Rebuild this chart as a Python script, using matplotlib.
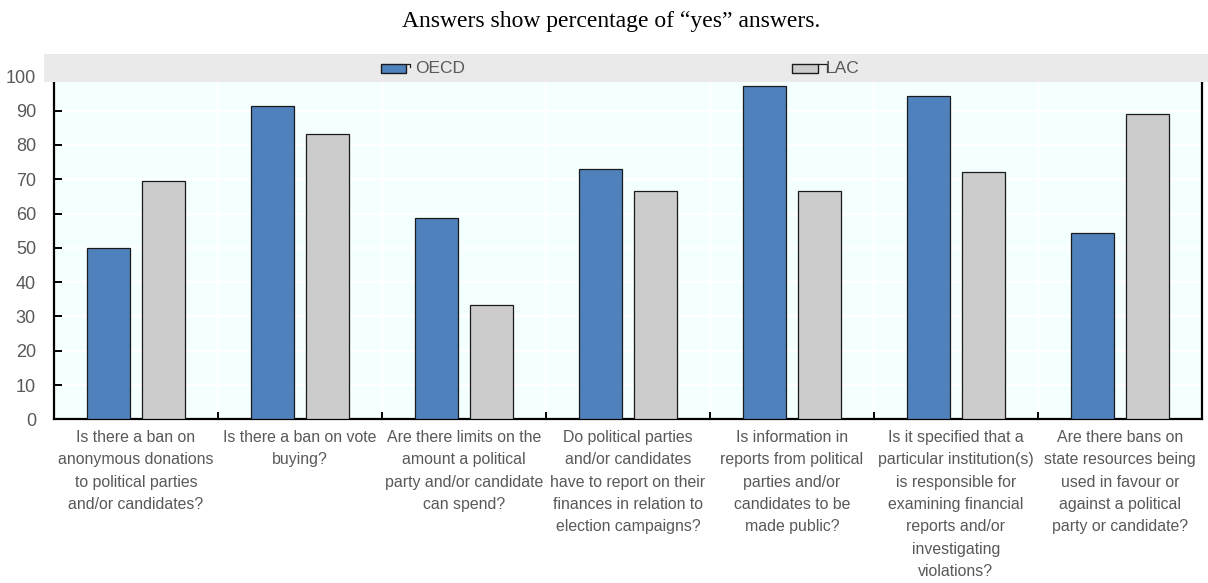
import matplotlib
matplotlib.use("Agg")
import matplotlib.pyplot as plt
from matplotlib import font_manager
from matplotlib.patches import Rectangle
from matplotlib.lines import Line2D
import numpy as np

# ---- data -------------------------------------------------------------
questions = [
    "Is there a ban on\nanonymous donations\nto political parties\nand/or candidates?",
    "Is there a ban on vote\nbuying?",
    "Are there limits on the\namount a political\nparty and/or candidate\ncan spend?",
    "Do political parties\nand/or candidates\nhave to report on their\nfinances in relation to\nelection campaigns?",
    "Is information in\nreports from political\nparties and/or\ncandidates to be\nmade public?",
    "Is it specified that a\nparticular institution(s)\nis responsible for\nexamining financial\nreports and/or\ninvestigating\nviolations?",
    "Are there bans on\nstate resources being\nused in favour or\nagainst a political\nparty or candidate?",
]
oecd = [50.0, 91.4, 58.6, 72.9, 97.1, 94.3, 54.3]
lac = [69.4, 83.3, 33.3, 66.7, 66.7, 72.2, 88.9]
series_names = ["OECD", "LAC"]
yticks = [0, 10, 20, 30, 40, 50, 60, 70, 80, 90, 100]
title = "Answers show percentage of \u201cyes\u201d answers."

# ---- styling ----------------------------------------------------------
available = {f.name for f in font_manager.fontManager.ttflist}
sans = ["Liberation Sans Narrow", "Liberation Sans", "DejaVu Sans"]
sans = [f for f in sans if f in available] or ["DejaVu Sans"]
plt.rcParams["font.family"] = sans

C_OECD = "#4F81BD"
C_LAC = "#CCCCCC"
TXT = "#595959"
W, H = 1208, 583

fig = plt.figure(figsize=(W / 100, H / 100), dpi=100)
fig.patch.set_facecolor("white")

ax_l, ax_r, ax_b, ax_t = 54, 1202, 419.3, 76.4
ax = fig.add_axes([ax_l / W, (H - ax_b) / H, (ax_r - ax_l) / W, (ax_b - ax_t) / H])
ax.set_facecolor("#F4FFFF")

n = len(questions)
x = np.arange(n)
bw = 0.265
off = 0.168
ax.bar(x - off, oecd, bw, color=C_OECD, edgecolor="#1a1a1a", linewidth=0.9, zorder=3)
ax.bar(x + off, lac, bw, color=C_LAC, edgecolor="#1a1a1a", linewidth=0.9, zorder=3)

ax.set_xlim(-0.5, n - 0.5)
ax.set_ylim(0, 100)
ax.set_yticks(yticks)
ax.set_xticks(x)
ax.set_xticklabels(questions)
ax.set_xticks(np.arange(n + 1) - 0.5, minor=True)

ax.grid(axis="y", color="white", linewidth=1.5, zorder=1)
ax.grid(axis="x", which="minor", color="white", linewidth=1.5, zorder=1)
ax.set_axisbelow(True)

for s in ["left", "bottom", "right"]:
    ax.spines[s].set_color("black")
    ax.spines[s].set_linewidth(1.6)
ax.spines["top"].set_visible(False)

ax.tick_params(axis="y", direction="in", length=6, width=1.4, color="black",
               labelsize=13, labelcolor=TXT, pad=13)
ax.tick_params(axis="x", which="major", length=0, labelsize=11.4, labelcolor=TXT, pad=7.5)
ax.tick_params(axis="x", which="minor", direction="in", length=5, width=1.4, color="black")
for lbl in ax.get_xticklabels():
    lbl.set_linespacing(1.62)

# ---- legend band above the plot area ---------------------------------
band = Rectangle((44 / W, (H - 81.7) / H), (W - 44) / W, 27.7 / H,
                 transform=fig.transFigure, facecolor="#EAEAEA",
                 edgecolor="none", zorder=5)
fig.add_artist(band)

def legend_item(px, color, label, tail):
    y0, y1 = 63.7, 72.5
    fig.add_artist(Rectangle((px / W, (H - y1) / H), 25.5 / W, (y1 - y0) / H,
                             transform=fig.transFigure, facecolor=color,
                             edgecolor="#1a1a1a", linewidth=1.0, zorder=6))
    xr = px + 25.5
    fig.add_artist(Line2D([xr / W, (xr + tail[0]) / W, (xr + tail[0]) / W],
                          [(H - y0) / H, (H - y0) / H, (H - y0 - tail[1]) / H],
                          transform=fig.transFigure, color="#1a1a1a",
                          linewidth=0.9, zorder=6))
    fig.text((px + 34) / W, (H - 68.5) / H, label, fontsize=12.5, color=TXT,
             ha="left", va="center", zorder=7)

legend_item(381, C_OECD, series_names[0], (3.5, 3.0))
legend_item(792, C_LAC, series_names[1], (9.0, 8.0))

fig.text(611 / W, (H - 22) / H, title, fontsize=17, color="black",
         family=["Liberation Serif", "DejaVu Serif"], ha="center", va="center")

fig.savefig("out.png", dpi=100)
